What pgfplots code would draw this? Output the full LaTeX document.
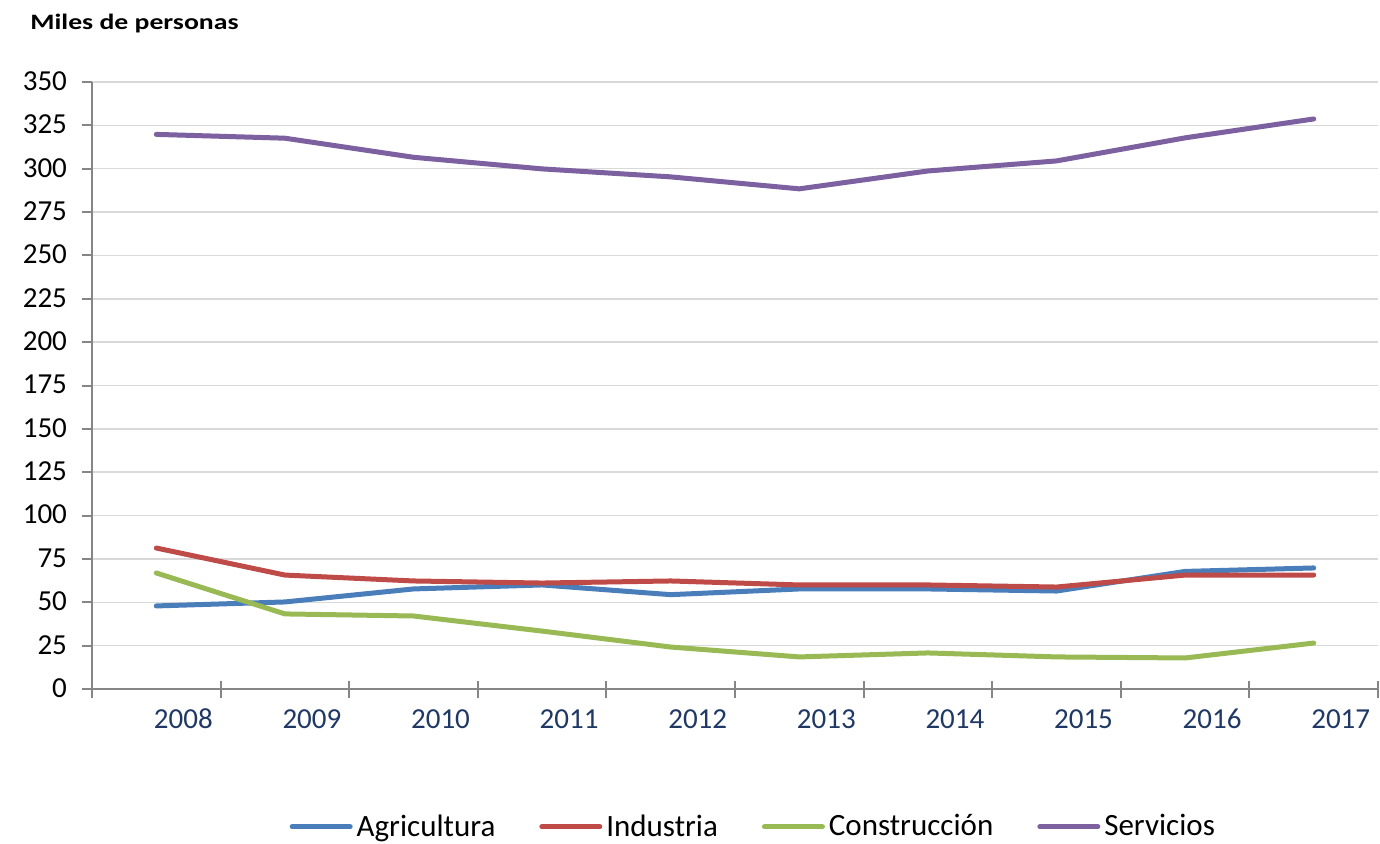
\documentclass[border=0pt]{standalone}
\usepackage{fontspec}
\setmainfont{Carlito}
\usepackage{graphicx}
\usepackage{pgfplots}
\pgfplotsset{compat=1.18}
\definecolor{agri}{HTML}{4A7EBB}
\definecolor{indu}{HTML}{BE4B48}
\definecolor{cons}{HTML}{98B954}
\definecolor{serv}{HTML}{7D60A0}
\definecolor{axisgray}{HTML}{868686}
\definecolor{gridgray}{HTML}{D9D9D9}
\definecolor{navy}{HTML}{1F3864}
\begin{document}
\begin{tikzpicture}
\path[use as bounding box] (-46pt,-77pt) rectangle (644pt,344.5pt);
\begin{axis}[at={(0,0)}, anchor=south west, scale only axis,
  width=643pt, height=303.5pt,
  xmin=-0.5, xmax=9.5, ymin=0, ymax=350, ytick={0,25,...,350},
  axis x line*=bottom, axis y line*=left,
  axis line style={draw=axisgray, line width=1pt, -},
  ymajorgrids, grid style={draw=gridgray, line width=0.75pt},
  xtick={0,...,9},
  xticklabels={2008,2009,2010,2011,2012,2013,2014,2015,2016,2017},
  every major x tick/.append style={draw=none},
  minor xtick={-0.5,0.5,...,9.5},
  minor tick length=8.5pt, major tick length=5pt,
  xtick align=center, ytick align=outside,
  tick style={draw=axisgray, line width=1pt},
  typeset ticklabels with strut,
  xticklabel style={xshift=13.5pt, yshift=-2.5pt, text=navy},
  /pgf/number format/assume math mode=true,
  tick label style={font=\fontsize{14.5}{16}\selectfont},
  yticklabel style={xshift=-4pt, yshift=-1pt},
  clip=false,
  legend columns=4,
  legend style={at={(0.515,-0.227)}, anchor=center, draw=none,
    font=\fontsize{15.5}{17}\selectfont,
    /tikz/every even column/.append style={column sep=20pt}},
  legend image code/.code={\draw[#1] (0pt,0pt) -- (29pt,0pt);},
  every axis plot/.append style={line width=2.5pt, line cap=round, line join=round},
]
\addplot[agri] coordinates {(0,47.9) (1,50.2) (2,57.7) (3,60.0) (4,54.4) (5,57.7) (6,57.7) (7,56.5) (8,67.8) (9,69.8)};
\addlegendentry{Agricultura}
\addplot[indu] coordinates {(0,81.3) (1,65.7) (2,62.3) (3,61.1) (4,62.3) (5,60.0) (6,60.0) (7,58.8) (8,65.7) (9,65.7)};
\addlegendentry{Industria}
\addplot[cons] coordinates {(0,66.9) (1,43.3) (2,42.1) (3,33.4) (4,24.2) (5,18.5) (6,20.8) (7,18.5) (8,17.9) (9,26.5)};
\addlegendentry{Construcción}
\addplot[serv] coordinates {(0,319.8) (1,317.6) (2,306.6) (3,299.9) (4,295.3) (5,288.4) (6,298.7) (7,304.5) (8,317.8) (9,328.7)};
\addlegendentry{Servicios}
\end{axis}
\node[anchor=base west, font=\bfseries\fontsize{11}{13}\selectfont, inner sep=0pt] at (-31pt,330pt) {\scalebox{1.26}[1]{Miles de personas}};
\end{tikzpicture}
\end{document}
